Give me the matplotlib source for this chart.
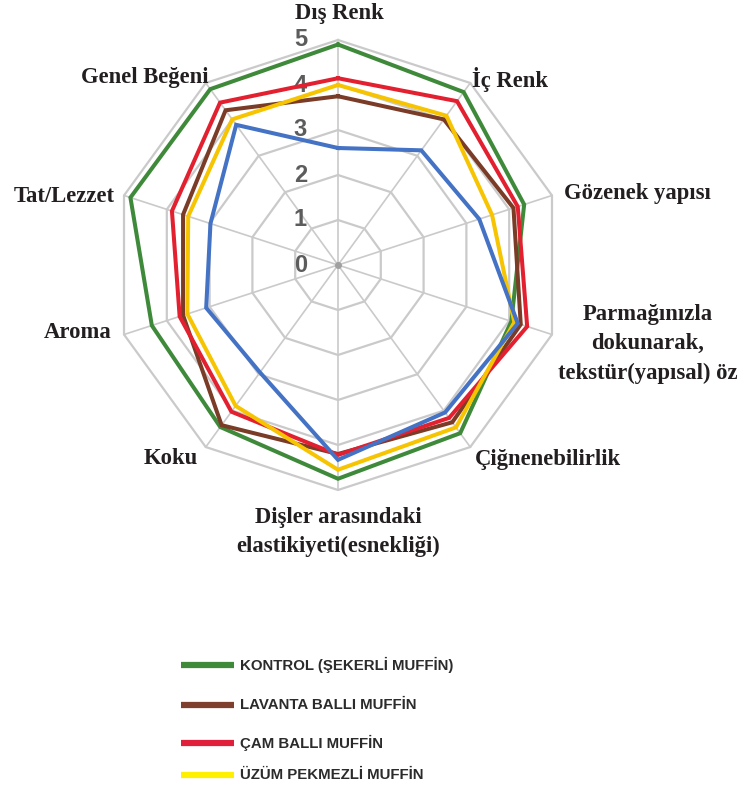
import numpy as np
import matplotlib
matplotlib.use("Agg")
from matplotlib import pyplot as plt
from matplotlib.lines import Line2D

# categories, clockwise from the top
categories = ["Dış Renk", "İç Renk", "Gözenek yapısı",
              "Parmağınızla\ndokunarak,\ntekstür(yapısal) öz",
              "Çiğnenebilirlik", "Dişler arasındaki\nelastikiyeti(esnekliği)",
              "Koku", "Aroma", "Tat/Lezzet", "Genel Beğeni"]

kontrol = [4.9, 4.75, 4.35, 4.05, 4.62, 4.75, 4.45, 4.35, 4.85, 4.83]
lavanta = [3.75, 4.0, 4.1, 4.27, 4.32, 4.2, 4.4, 3.62, 3.62, 4.25]
cam = [4.15, 4.5, 4.2, 4.42, 4.2, 4.22, 4.03, 3.7, 3.88, 4.46]
uzum = [4.0, 4.1, 3.6, 4.12, 4.46, 4.55, 3.87, 3.52, 3.5, 4.0]
mavi = [2.6, 3.15, 3.3, 4.2, 4.05, 4.33, 2.95, 3.08, 2.98, 3.85]

series_names = ["KONTROL (ŞEKERLİ MUFFİN)", "LAVANTA BALLI MUFFİN",
                "ÇAM BALLI MUFFİN", "ÜZÜM PEKMEZLİ MUFFİN", None]
ticks = [0, 1, 2, 3, 4, 5]

W, H = 740, 787
fig = plt.figure(figsize=(W / 100, H / 100), dpi=100)
fig.patch.set_facecolor("white")

# polar axes centred at (338, 265) px, radius 225 px
cx, cy, R = 338, 265, 225
ax = fig.add_axes([(cx - R) / W, 1 - (cy + R) / H, 2 * R / W, 2 * R / H], projection="polar")
ax.set_theta_zero_location("N")
ax.set_theta_direction(-1)
ax.set_ylim(0, 5)
ax.grid(False)
ax.set_xticks([])
ax.set_yticks([])
ax.spines["polar"].set_visible(False)
ax.patch.set_alpha(0)

n = len(categories)
theta = np.linspace(0, 2 * np.pi, n, endpoint=False)
theta_c = np.append(theta, theta[0])

# polygon grid (excel style)
for t in ticks[1:]:
    ax.plot(theta_c, [t] * (n + 1), color="#cacaca", lw=1.6, zorder=1, clip_on=False)
for th in theta:
    ax.plot([th, th], [0, 5], color="#cacaca", lw=1.2, zorder=1, clip_on=False)
ax.plot([0], [0], "o", color="#a0a0a0", ms=4, zorder=1)

for t in ticks:
    ax.annotate(str(t), xy=(0, t), xytext=(-27, 0), textcoords="offset points",
                ha="center", va="center", fontsize=17, fontweight="bold",
                color="#5c5c5c", fontfamily="Liberation Sans", zorder=2)

line_colors = ["#3f8a3a", "#7a3b27", "#e2202f", "#f6c400", "#4472c4"]
legend_colors = ["#3f8a3a", "#7f3f2e", "#e0203a", "#fff000"]
data = [kontrol, lavanta, cam, uzum, mavi]
for vals, col in zip(data, line_colors):
    ax.plot(theta_c, list(vals) + [vals[0]], color=col, lw=2.9, zorder=3,
            solid_joinstyle="miter", clip_on=False)

# category labels (pixel centres)
label_pos = [(339, 14), (510, 80), (637, 193), (648, 344), (548, 460),
             (338, 532), (171, 458), (78, 333), (64, 197), (145, 78)]
for lab, (x, y) in zip(categories, label_pos):
    fig.text(x / W, 1 - y / H, lab, ha="center", va="center", fontsize=16.3,
             fontweight="bold", fontfamily="Liberation Serif", color="#231f20",
             linespacing=1.5)

# legend
leg_y = [665, 705, 743, 775]
for name, col, y in zip(series_names[:4], legend_colors, leg_y):
    fig.add_artist(Line2D([181 / W, 234 / W], [1 - y / H, 1 - y / H],
                          color=col, lw=4.5, solid_capstyle="butt"))
    fig.text(240 / W, 1 - y / H, name, ha="left", va="center", fontsize=10.8,
             fontweight="bold", fontfamily="Liberation Sans", color="#2b2b2b")

plt.savefig("out.png", dpi=100, facecolor="white")
